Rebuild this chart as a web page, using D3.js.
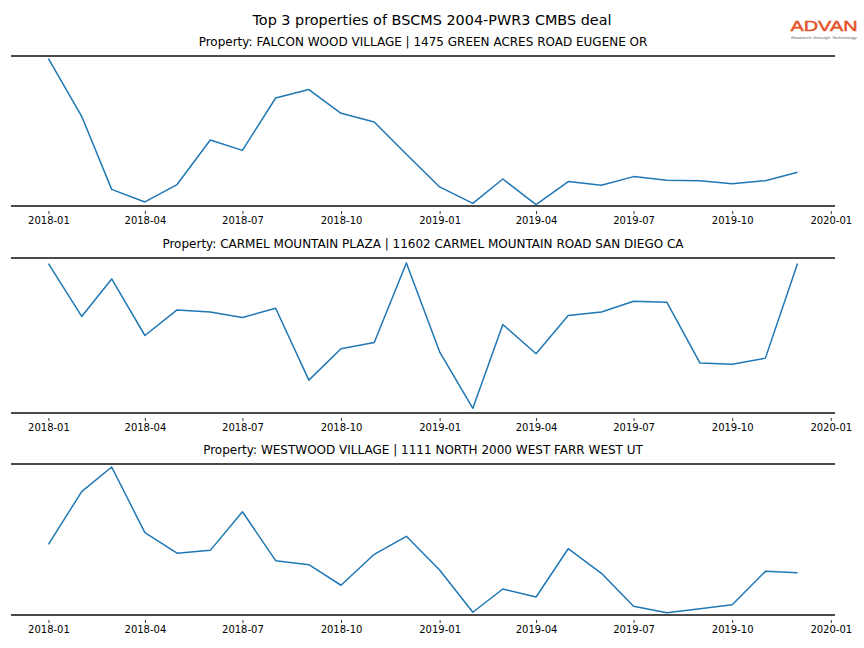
<!DOCTYPE html>
<html>
<head>
<meta charset="utf-8">
<script src="https://cdn.jsdelivr.net/npm/d3@7"></script>
<style>
  html, body { margin: 0; padding: 0; background: #ffffff; }
  svg { display: block; font-family: "DejaVu Sans", sans-serif; }
</style>
</head>
<body>
<svg id="chart" width="864" height="648"></svg>
<script>
// ---------------- data ----------------
const chartTitle = "Top 3 properties of BSCMS 2004-PWR3 CMBS deal";

const months = [
  "2018-01","2018-02","2018-03","2018-04","2018-05","2018-06",
  "2018-07","2018-08","2018-09","2018-10","2018-11","2018-12",
  "2019-01","2019-02","2019-03","2019-04","2019-05","2019-06",
  "2019-07","2019-08","2019-09","2019-10","2019-11","2019-12"
];

const tickLabels = ["2018-01","2018-04","2018-07","2018-10","2019-01","2019-04","2019-07","2019-10","2020-01"];

const propertyTitles = [
  "Property: FALCON WOOD VILLAGE | 1475 GREEN ACRES ROAD EUGENE OR",
  "Property: CARMEL MOUNTAIN PLAZA | 11602 CARMEL MOUNTAIN ROAD SAN DIEGO CA",
  "Property: WESTWOOD VILLAGE | 1111 NORTH 2000 WEST FARR WEST UT"
];

// relative foot-traffic index (no y axis shown in the source)
const falconWood = [98.3, 59.8, 11.1, 2.7, 14.3, 44.0, 37.1, 72.0, 77.6, 61.8, 56.0, 34.5,
                    12.7, 1.8, 18.0, 0.9, 16.3, 13.8, 19.6, 17.1, 16.9, 14.9, 16.9, 22.5];
const carmelMountain = [96.4, 62.3, 86.5, 50.0, 66.5, 65.2, 61.6, 67.6, 21.2, 41.4, 45.5, 96.8,
                        39.5, 3.0, 57.1, 38.2, 62.9, 65.2, 72.1, 71.5, 32.2, 31.4, 35.4, 96.4];
const westwood = [46.8, 81.7, 98.0, 54.5, 40.9, 42.8, 68.4, 36.0, 33.3, 19.7, 40.2, 52.1,
                  29.8, 1.8, 17.2, 11.9, 43.9, 27.6, 5.8, 1.5, 4.2, 6.8, 28.9, 28.0];

const seriesList = [falconWood, carmelMountain, westwood];

// ---------------- layout ----------------
const svg = d3.select("#chart");
const parseMonth = d3.timeParse("%Y-%m");
const dates = months.map(parseMonth);
const tickDates = tickLabels.map(parseMonth);

const left = 11, right = 835;
const panels = [
  { top: 56,  bottom: 206 },
  { top: 258, bottom: 413 },
  { top: 464, bottom: 615 }
];

// x domain: data extent padded by 5% on each side (matplotlib-like margins)
const ext = d3.extent(dates);
const padMs = (ext[1] - ext[0]) * 0.05;
const x = d3.scaleTime()
  .domain([new Date(+ext[0] - padMs), new Date(+ext[1] + padMs)])
  .range([left, right]);

// main title
svg.append("text")
  .attr("x", 432).attr("y", 25)
  .attr("text-anchor", "middle")
  .attr("font-size", 14.4)
  .attr("fill", "#000")
  .text(chartTitle);

// logo
const logo = svg.append("g");
logo.append("text")
  .attr("x", 824).attr("y", 31)
  .attr("text-anchor", "middle")
  .attr("font-family", "'Liberation Sans', Arial, sans-serif")
  .attr("font-size", 15)
  .attr("fill", "#e5532a")
  .attr("stroke", "#e5532a")
  .attr("stroke-width", 0.5)
  .attr("textLength", 67)
  .attr("lengthAdjust", "spacingAndGlyphs")
  .text("ADVAN");
logo.append("text")
  .attr("x", 824).attr("y", 39)
  .attr("text-anchor", "middle")
  .attr("font-size", 3.6)
  .attr("fill", "#666")
  .attr("textLength", 66)
  .attr("lengthAdjust", "spacingAndGlyphs")
  .text("Research through Technology");

panels.forEach((p, i) => {
  const g = svg.append("g");
  const y = d3.scaleLinear().domain([0, 100]).range([p.bottom, p.top]);

  // subtitle
  g.append("text")
    .attr("x", 423).attr("y", p.top - 10)
    .attr("text-anchor", "middle")
    .attr("font-size", 12)
    .attr("fill", "#000")
    .text(propertyTitles[i]);

  // x axis
  const axis = d3.axisBottom(x)
    .tickValues(tickDates)
    .tickFormat(d3.timeFormat("%Y-%m"))
    .tickSize(3)
    .tickPadding(3);
  const ag = g.append("g")
    .attr("transform", `translate(0,${p.bottom + 5})`)
    .call(axis);
  ag.select(".domain").remove();
  ag.selectAll(".tick line").attr("stroke", "#000").attr("stroke-width", 0.8);
  ag.selectAll(".tick text")
    .attr("font-family", "'DejaVu Sans', sans-serif")
    .attr("font-size", 10)
    .attr("fill", "#000");

  // spines (top & bottom)
  [p.top, p.bottom].forEach(yy => {
    g.append("line")
      .attr("x1", left).attr("x2", right)
      .attr("y1", yy).attr("y2", yy)
      .attr("stroke", "#4a4a4a")
      .attr("stroke-width", 2);
  });

  // line
  const line = d3.line()
    .x((d, j) => x(dates[j]))
    .y(d => y(d));
  g.append("path")
    .datum(seriesList[i])
    .attr("fill", "none")
    .attr("stroke", "#1f77b4")
    .attr("stroke-width", 1.5)
    .attr("stroke-linejoin", "round")
    .attr("d", line);
});
</script>
</body>
</html>
